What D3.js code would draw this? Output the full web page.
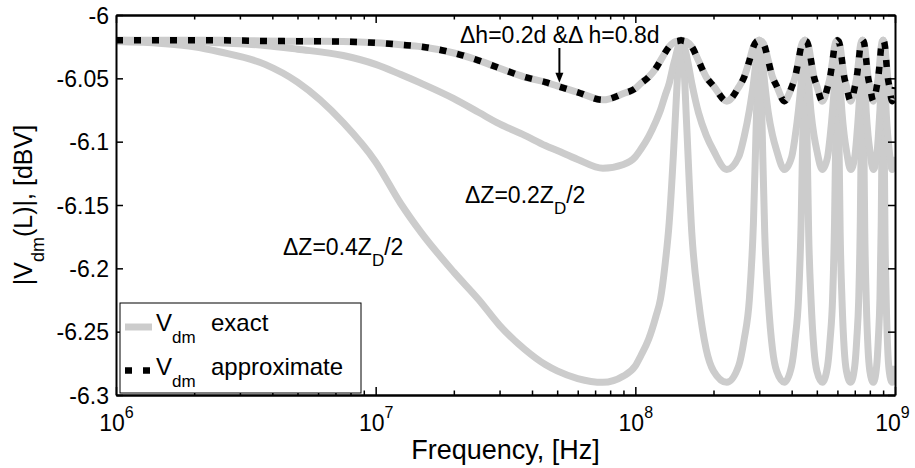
<!DOCTYPE html>
<html>
<head>
<meta charset="utf-8">
<script src="https://cdn.jsdelivr.net/npm/d3@7"></script>
<style>
  body { margin: 0; background: #fff; }
  svg { display: block; font-family: "Liberation Sans", Arial, sans-serif; }
  .curve { fill: none; stroke-linejoin: round; }
</style>
</head>
<body>
<svg width="915" height="468"></svg>
<script>
// frequency samples [Hz], one period of the ripple is 1.5e8 Hz
const freq = [
  1e6, 1.5e6, 2e6, 2.5e6, 3.75e6, 5e6, 7.5e6, 1e7, 1.25e7, 1.5e7, 2e7, 2.5e7, 3e7, 3.75e7, 4.5e7,
  5e7, 6e7, 7.5e7, 9e7, 1e8, 1.05e8, 1.125e8, 1.2e8, 1.25e8, 1.3e8, 1.35e8, 1.4e8, 1.425e8, 1.4625e8, 1.5e8,
  1.5375e8, 1.575e8, 1.65e8, 1.75e8, 1.875e8, 2e8, 2.25e8, 2.5e8, 2.625e8, 2.75e8, 2.85e8, 2.925e8, 2.9625e8, 3e8,
  3.0375e8, 3.075e8, 3.15e8, 3.25e8, 3.375e8, 3.5e8, 3.75e8, 4e8, 4.125e8, 4.25e8, 4.35e8, 4.425e8, 4.4625e8, 4.5e8,
  4.5375e8, 4.575e8, 4.65e8, 4.75e8, 4.875e8, 5e8, 5.25e8, 5.5e8, 5.625e8, 5.75e8, 5.85e8, 5.925e8, 5.9625e8, 6e8,
  6.0375e8, 6.075e8, 6.15e8, 6.25e8, 6.375e8, 6.5e8, 6.75e8, 7e8, 7.125e8, 7.25e8, 7.35e8, 7.425e8, 7.4625e8, 7.5e8,
  7.5375e8, 7.575e8, 7.65e8, 7.75e8, 7.875e8, 8e8, 8.25e8, 8.5e8, 8.625e8, 8.75e8, 8.85e8, 8.925e8, 8.9625e8, 9e8,
  9.0375e8, 9.075e8, 9.15e8, 9.25e8, 9.375e8, 9.5e8, 9.75e8, 1e9
];

// exact |Vdm(L)| [dBV], dZ = 0.4 ZD/2
const vZ04 = [
  -6.021, -6.0225, -6.025, -6.029, -6.039, -6.053, -6.085, -6.116, -6.149, -6.172, -6.203, -6.225, -6.245, -6.264, -6.276,
  -6.281, -6.287, -6.290, -6.285, -6.277, -6.269, -6.256, -6.238, -6.224, -6.198, -6.164, -6.112, -6.082, -6.040, -6.020,
  -6.039, -6.085, -6.172, -6.225, -6.264, -6.281, -6.290, -6.277, -6.256, -6.224, -6.164, -6.082, -6.040, -6.020,
  -6.039, -6.085, -6.172, -6.225, -6.264, -6.281, -6.290, -6.277, -6.256, -6.224, -6.164, -6.082, -6.040, -6.020,
  -6.039, -6.085, -6.172, -6.225, -6.264, -6.281, -6.290, -6.277, -6.256, -6.224, -6.164, -6.082, -6.040, -6.020,
  -6.039, -6.085, -6.172, -6.225, -6.264, -6.281, -6.290, -6.277, -6.256, -6.224, -6.164, -6.082, -6.040, -6.020,
  -6.039, -6.085, -6.172, -6.225, -6.264, -6.281, -6.290, -6.277, -6.256, -6.224, -6.164, -6.082, -6.040, -6.020,
  -6.039, -6.085, -6.172, -6.225, -6.264, -6.281, -6.290, -6.277
];

// exact, dZ = 0.2 ZD/2
const vZ02 = [
  -6.020, -6.0205, -6.021, -6.022, -6.024, -6.027, -6.032, -6.039, -6.047, -6.054, -6.066, -6.077, -6.086, -6.095, -6.103,
  -6.107, -6.114, -6.121, -6.118, -6.112, -6.106, -6.096, -6.084, -6.075, -6.064, -6.054, -6.040, -6.034, -6.025, -6.020,
  -6.024, -6.032, -6.054, -6.077, -6.095, -6.107, -6.122, -6.112, -6.096, -6.075, -6.054, -6.034, -6.025, -6.020,
  -6.024, -6.032, -6.054, -6.077, -6.095, -6.107, -6.122, -6.112, -6.096, -6.075, -6.054, -6.034, -6.025, -6.020,
  -6.024, -6.032, -6.054, -6.077, -6.095, -6.107, -6.122, -6.112, -6.096, -6.075, -6.054, -6.034, -6.025, -6.020,
  -6.024, -6.032, -6.054, -6.077, -6.095, -6.107, -6.122, -6.112, -6.096, -6.075, -6.054, -6.034, -6.025, -6.020,
  -6.024, -6.032, -6.054, -6.077, -6.095, -6.107, -6.122, -6.112, -6.096, -6.075, -6.054, -6.034, -6.025, -6.020,
  -6.024, -6.032, -6.054, -6.077, -6.095, -6.107, -6.122, -6.112
];

// exact, dh = 0.2d & dh = 0.8d
const vDh = [
  -6.020, -6.020, -6.020, -6.020, -6.0205, -6.0207, -6.021, -6.022, -6.0235, -6.025, -6.030, -6.036, -6.042, -6.049, -6.053,
  -6.056, -6.061, -6.067, -6.062, -6.058, -6.054, -6.049, -6.042, -6.036, -6.030, -6.025, -6.022, -6.021, -6.0205, -6.020,
  -6.0205, -6.021, -6.025, -6.036, -6.049, -6.056, -6.068, -6.057, -6.049, -6.036, -6.025, -6.021, -6.0205, -6.020,
  -6.0205, -6.021, -6.025, -6.036, -6.049, -6.056, -6.068, -6.057, -6.049, -6.036, -6.025, -6.021, -6.0205, -6.020,
  -6.0205, -6.021, -6.025, -6.036, -6.049, -6.056, -6.068, -6.057, -6.049, -6.036, -6.025, -6.021, -6.0205, -6.020,
  -6.0205, -6.021, -6.025, -6.036, -6.049, -6.056, -6.068, -6.057, -6.049, -6.036, -6.025, -6.021, -6.0205, -6.020,
  -6.0205, -6.021, -6.025, -6.036, -6.049, -6.056, -6.068, -6.057, -6.049, -6.036, -6.025, -6.021, -6.0205, -6.020,
  -6.0205, -6.021, -6.025, -6.036, -6.049, -6.056, -6.068, -6.057
];

// approximate curve sits on top of the dh exact one at this scale
const vDhApprox = vDh;

const yTicks = [-6, -6.05, -6.1, -6.15, -6.2, -6.25, -6.3];
const yTickLabels = ["-6", "-6.05", "-6.1", "-6.15", "-6.2", "-6.25", "-6.3"];
const xMajor = [1e6, 1e7, 1e8, 1e9];
const xMajorExp = ["6", "7", "8", "9"];
const xMinor = [2, 3, 4, 5, 6, 7, 8, 9].flatMap(m => [1e6, 1e7, 1e8].map(d => m * d));

const svg = d3.select("svg");
const width = +svg.attr("width");
const height = +svg.attr("height");

const margin = { top: 15, right: 20, bottom: 73, left: 116 };
const innerWidth = width - margin.left - margin.right;
const innerHeight = height - margin.top - margin.bottom;

const gray = "#cccccc";

const xScale = d3.scaleLog().domain([1e6, 1e9]).range([0, innerWidth]);
const yScale = d3.scaleLinear().domain([-6.3, -6]).range([innerHeight, 0]);

const g = svg.append("g").attr("transform", `translate(${margin.left},${margin.top})`);

svg.append("defs").append("clipPath").attr("id", "plot-clip")
  .append("rect").attr("width", innerWidth).attr("height", innerHeight);

// text with sub/superscripts: pieces laid out left to right as separate text nodes
const richText = (parent, x, y, parts, anchor) => {
  const nodes = parts.map(p => parent.append("text")
    .attr("fill", "black")
    .attr("text-anchor", "start")
    .attr("font-size", p.size)
    .attr("y", y + (p.dy || 0))
    .text(p.text));
  const widths = nodes.map(n => n.node().getComputedTextLength());
  let cx = anchor === "middle" ? x - d3.sum(widths) / 2 : x;
  nodes.forEach((n, i) => {
    n.attr("x", cx);
    cx += widths[i];
  });
  return nodes;
};

// curves
const rows = freq.map((f, i) => ({ f, z4: vZ04[i], z2: vZ02[i], dh: vDh[i], ap: vDhApprox[i] }));
const lineFor = key => d3.line()
  .x(d => xScale(d.f))
  .y(d => yScale(d[key]))
  .curve(d3.curveMonotoneX);

const curves = g.append("g").attr("clip-path", "url(#plot-clip)");
["z4", "z2", "dh"].forEach(key => {
  curves.append("path")
    .attr("class", "curve")
    .attr("stroke", gray)
    .attr("stroke-width", 7)
    .attr("d", lineFor(key)(rows));
});
curves.append("path")
  .attr("class", "curve")
  .attr("stroke", "black")
  .attr("stroke-width", 6.5)
  .attr("stroke-dasharray", "7,11")
  .attr("d", lineFor("ap")(rows));

// axes (box with inward ticks)
const styleAxis = sel => {
  sel.select(".domain").attr("stroke-width", 2);
  sel.selectAll(".tick line").attr("stroke-width", 1.5);
};
const noLabels = sel => sel.selectAll(".tick text").remove();

const yAxisG = g.append("g")
  .call(d3.axisLeft(yScale).tickValues(yTicks).tickSize(-7).tickSizeOuter(0))
  .call(styleAxis).call(noLabels);
yAxisG.attr("font-family", null).attr("font-size", null);
yAxisG.selectAll(".tick").append("text")
  .attr("fill", "black")
  .attr("font-size", 23)
  .attr("text-anchor", "end")
  .attr("x", -7)
  .attr("y", 8)
  .text((d, i) => yTickLabels[i]);

g.append("g").attr("transform", `translate(${innerWidth},0)`)
  .call(d3.axisRight(yScale).tickValues(yTicks).tickSize(-7).tickSizeOuter(0))
  .call(styleAxis).call(noLabels);

const xAxisG = g.append("g").attr("transform", `translate(0,${innerHeight})`)
  .call(d3.axisBottom(xScale).tickValues(xMajor).tickSize(-8).tickSizeOuter(0))
  .call(styleAxis).call(noLabels);
g.append("g").attr("transform", `translate(0,${innerHeight})`)
  .call(d3.axisBottom(xScale).tickValues(xMinor).tickSize(-4.5).tickSizeOuter(0))
  .call(styleAxis).call(noLabels);
g.append("g")
  .call(d3.axisTop(xScale).tickValues(xMajor).tickSize(-8).tickSizeOuter(0))
  .call(styleAxis).call(noLabels);
g.append("g")
  .call(d3.axisTop(xScale).tickValues(xMinor).tickSize(-4.5).tickSizeOuter(0))
  .call(styleAxis).call(noLabels);

xAxisG.attr("font-family", null).attr("font-size", null).attr("text-anchor", null);
xAxisG.selectAll(".tick").each(function (d, i) {
  const shift = i === xMajor.length - 1 ? -3 : 0;
  richText(d3.select(this), shift, 36, [
    { text: "10", size: 23 },
    { text: xMajorExp[i], size: 16, dy: -13 }
  ], "middle");
});

// axis titles
svg.append("text")
  .attr("font-size", 27)
  .attr("text-anchor", "middle")
  .attr("x", margin.left + innerWidth / 2)
  .attr("y", 459)
  .text("Frequency, [Hz]");

const yTitleG = svg.append("g")
  .attr("transform", `translate(32,${margin.top + innerHeight / 2}) rotate(-90)`);
richText(yTitleG, 0, 0, [
  { text: "|V", size: 25 },
  { text: "dm", size: 18, dy: 12 },
  { text: "(L)|, [dBV]", size: 25 }
], "middle");

// annotations
const notes = g.append("g");
richText(notes, 344, 28, [{ text: "\u0394h=0.2d &\u0394 h=0.8d", size: 23 }]);

const arrowX = xScale(5.1e7);
const arrowTip = yScale(-6.0535);
notes.append("line")
  .attr("x1", arrowX).attr("x2", arrowX)
  .attr("y1", 33).attr("y2", arrowTip - 8)
  .attr("stroke", "black").attr("stroke-width", 2);
notes.append("path")
  .attr("d", `M${arrowX - 4},${arrowTip - 10}L${arrowX + 4},${arrowTip - 10}L${arrowX},${arrowTip}Z`)
  .attr("fill", "black");

richText(notes, 349, 188, [
  { text: "\u0394Z=0.2Z", size: 23 },
  { text: "D", size: 17, dy: 11 },
  { text: "/2", size: 23 }
]);
richText(notes, 167, 240, [
  { text: "\u0394Z=0.4Z", size: 23 },
  { text: "D", size: 17, dy: 11 },
  { text: "/2", size: 23 }
]);

// legend
const legend = g.append("g").attr("transform", "translate(4,288)");
legend.append("rect")
  .attr("width", 241).attr("height", 90)
  .attr("fill", "white").attr("stroke", "black").attr("stroke-width", 1);

const legendItems = [
  { label: "exact", color: gray, width: 7, dash: null, y: 24 },
  { label: "approximate", color: "black", width: 6.5, dash: "7,11", y: 67.5 }
];
legendItems.forEach(item => {
  legend.append("line")
    .attr("x1", 5).attr("x2", 32)
    .attr("y1", item.y).attr("y2", item.y)
    .attr("stroke", item.color)
    .attr("stroke-width", item.width)
    .attr("stroke-dasharray", item.dash);
  richText(legend, 36, item.y + 4, [
    { text: "V", size: 24 },
    { text: "dm", size: 17, dy: 12 }
  ]);
  richText(legend, 91, item.y + 4, [{ text: item.label, size: 24 }]);
});
</script>
</body>
</html>
